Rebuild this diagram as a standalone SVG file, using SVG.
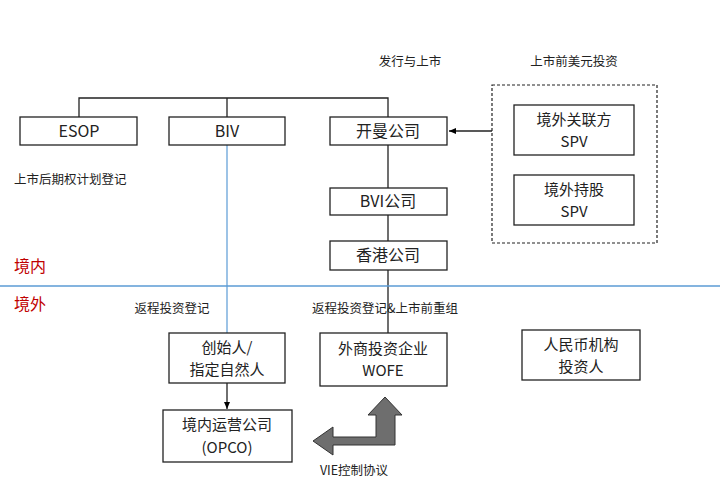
<svg xmlns="http://www.w3.org/2000/svg" width="723" height="484" viewBox="0 0 723 484">
<defs><marker id="ah" markerWidth="8" markerHeight="8" refX="7" refY="4" orient="auto" markerUnits="userSpaceOnUse"><path d="M0,1 L7,4 L0,7 Z" fill="#000"/></marker></defs>
<style>
.b{fill:#fff;stroke:#222;stroke-width:1.3}
text{font-family:"Noto Sans CJK SC","Noto Sans",sans-serif;fill:#222;text-anchor:middle}
.t{font-size:16px}.m{font-size:15px}.s{font-size:12.5px}.r{font-size:16px;fill:#c00000;text-anchor:start}
.l{fill:none;stroke:#222;stroke-width:1.3}
</style>
<rect width="723" height="484" fill="#fff"/>
<g id="connectors">
<path class="l" d="M79,117 V98 H388 V117 M227,98 V117"/>
<path class="l" d="M388,145 V188 M388,215 V241 M388,270 V333"/>
<line x1="0" y1="286" x2="720" y2="286" stroke="#5b9bd5" stroke-width="1.5"/>
<line x1="227" y1="145" x2="227" y2="333" stroke="#5b9bd5" stroke-width="1.2"/>
<line x1="492" y1="131" x2="449" y2="131" class="l" marker-end="url(#ah)"/>
<line x1="227" y1="383" x2="227" y2="409" class="l" marker-end="url(#ah)"/>
<path d="M385,397 L402,415 L395,415 L395,445 L333,445 L333,455 L313,441 L333,427 L333,437 L376,437 L376,415 L368,415 Z" fill="#6e6e6e" stroke="#333" stroke-width="1"/>
</g>
<g id="n-esop"><rect class="b" x="20" y="117" width="117" height="28"/><text class="t" x="79" y="137">ESOP</text></g>
<g id="n-biv"><rect class="b" x="169" y="117" width="116" height="28"/><text class="t" x="227" y="137">BIV</text></g>
<g id="n-cayman"><rect class="b" x="330" y="117" width="117" height="28"/><text class="t" x="388" y="137">开曼公司</text></g>
<g id="n-bvi"><rect class="b" x="330" y="188" width="117" height="27"/><text class="t" x="388" y="207">BVI公司</text></g>
<g id="n-hk"><rect class="b" x="330" y="241" width="117" height="29"/><text class="t" x="388" y="261">香港公司</text></g>
<g id="n-dashed"><rect x="492" y="85" width="165" height="158" fill="none" stroke="#222" stroke-width="1.2" stroke-dasharray="3,2"/></g>
<g id="n-spv1"><rect class="b" x="514" y="105" width="120" height="50"/><text class="m" x="574" y="125">境外关联方</text><text class="m" x="574" y="147">SPV</text></g>
<g id="n-spv2"><rect class="b" x="514" y="175" width="120" height="50"/><text class="m" x="574" y="195">境外持股</text><text class="m" x="574" y="217">SPV</text></g>
<g id="n-founder"><rect class="b" x="169" y="333" width="116" height="50"/><text class="m" x="227" y="353">创始人/</text><text class="m" x="227" y="375">指定自然人</text></g>
<g id="n-wofe"><rect class="b" x="320" y="333" width="127" height="53"/><text class="m" x="383" y="354">外商投资企业</text><text class="m" x="383" y="376">WOFE</text></g>
<g id="n-rmb"><rect class="b" x="522" y="330" width="118" height="50"/><text class="m" x="581" y="350">人民币机构</text><text class="m" x="581" y="372">投资人</text></g>
<g id="n-opco"><rect class="b" x="163" y="410" width="129" height="52"/><text class="m" x="227" y="430">境内运营公司</text><text class="m" x="227" y="453">(OPCO)</text></g>
<g id="labels">
<text class="s" x="410" y="66">发行与上市</text>
<text class="s" x="574" y="66">上市前美元投资</text>
<text class="s" x="14" y="184" style="text-anchor:start">上市后期权计划登记</text>
<text class="r" x="14" y="272">境内</text>
<text class="r" x="14" y="310">境外</text>
<text class="s" x="172" y="313">返程投资登记</text>
<text class="s" x="385" y="313">返程投资登记&amp;上市前重组</text>
<text class="s" x="354" y="475">VIE控制协议</text>
</g>
</svg>
